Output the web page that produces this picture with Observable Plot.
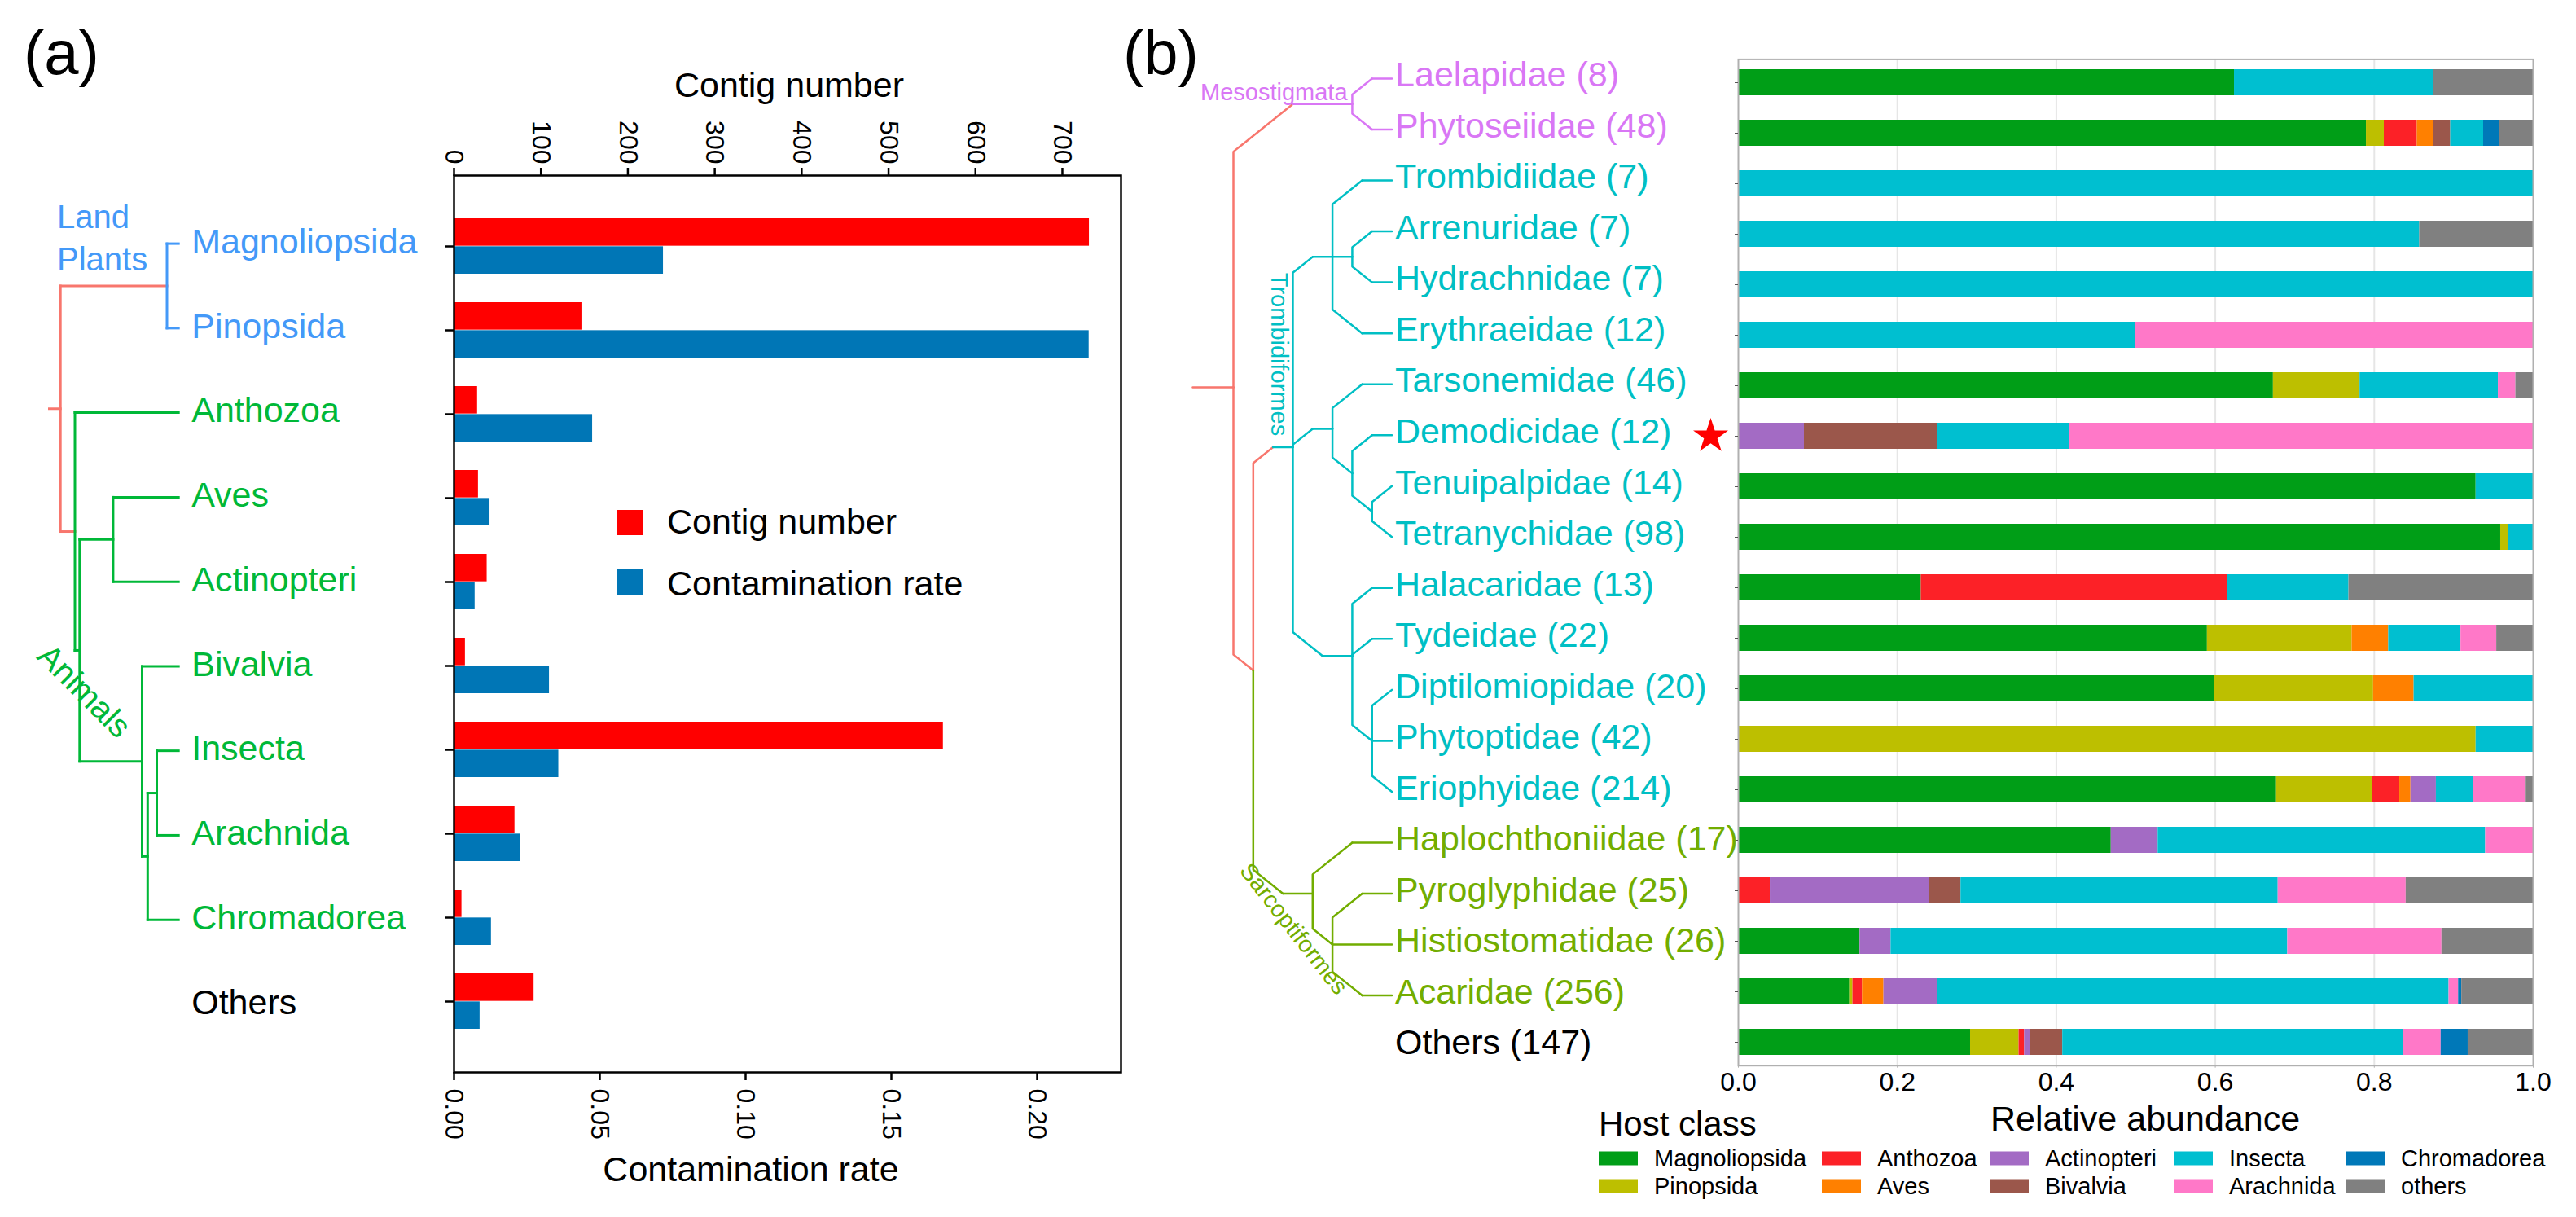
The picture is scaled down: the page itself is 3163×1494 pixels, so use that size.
<!DOCTYPE html>
<html><head><meta charset="utf-8">
<script src="https://cdn.jsdelivr.net/npm/d3@7"></script>
<script src="https://cdn.jsdelivr.net/npm/@observablehq/plot@0.6"></script>
<style>
body{margin:0;background:#fff;}
#wrap{position:relative;width:3163px;height:1494px;overflow:hidden;background:#fff;font-family:"Liberation Sans",Arial,sans-serif;}
#wrap svg{position:absolute;left:0;top:0;}
</style></head><body><div id="wrap"></div>
<script>
// ---------------- DATA (a) ----------------
const catsA = ["Magnoliopsida","Pinopsida","Anthozoa","Aves","Actinopteri","Bivalvia","Insecta","Arachnida","Chromadorea","Others"];
const contigNumber = [731,148,27,28,38,13,563,70,9,92];
const contaminationRate = [0.0718,0.2178,0.0475,0.0123,0.0072,0.0327,0.0359,0.0227,0.0128,0.0089];
const contigTicks = [0,100,200,300,400,500,600,700];
const rateTicks = [0,0.05,0.10,0.15,0.20];
// tree (a): node depth, group; leaves are category names
const treeA = {d:0,g:"root",c:[
  {d:130.8,g:"plant",stem:"root",c:["Magnoliopsida","Pinopsida"]},
  {d:17.8,g:"animal",stem:"root",c:["Anthozoa",
    {d:23.6,c:[{d:64.7,c:["Aves","Actinopteri"]},
               {d:100.3,c:["Bivalvia",{d:107.1,c:[{d:118.3,c:["Insecta","Arachnida"]},"Chromadorea"]}]}]}]}
]};

// ---------------- DATA (b) ----------------
const familiesB = ["Laelapidae","Phytoseiidae","Trombidiidae","Arrenuridae","Hydrachnidae","Erythraeidae","Tarsonemidae","Demodicidae","Tenuipalpidae","Tetranychidae","Halacaridae","Tydeidae","Diptilomiopidae","Phytoptidae","Eriophyidae","Haplochthoniidae","Pyroglyphidae","Histiostomatidae","Acaridae","Others"];
const countsB = [8,48,7,7,7,12,46,12,14,98,13,22,20,42,214,17,25,26,256,147];
const hostClasses = ["Magnoliopsida","Pinopsida","Anthozoa","Aves","Actinopteri","Bivalvia","Insecta","Arachnida","Chromadorea","others"];
const hostColors = ["#009e17","#bdbf00","#fc2127","#ff8000","#a36bc4","#9b574b","#00bfd0","#ff78c8","#0078b8","#808080"];
const Magnoliopsida = [0.624,0.790,0,0,0,0,0.673,0,0.928,0.959,0.230,0.590,0.599,0,0.677,0.469,0,0.153,0.140,0.292];
const Pinopsida     = [0,0.0225,0,0,0,0,0.109,0,0,0.010,0,0.182,0.200,0.928,0.121,0,0,0,0.004,0.061];
const Anthozoa      = [0,0.0415,0,0,0,0,0,0,0,0,0.385,0,0,0,0.034,0,0.040,0,0.012,0.007];
const Aves          = [0,0.021,0,0,0,0,0,0,0,0,0,0.046,0.051,0,0.014,0,0,0,0.027,0];
const Actinopteri   = [0,0,0,0,0,0,0,0.083,0,0,0,0,0,0,0.032,0.059,0.200,0.039,0.067,0.007];
const Bivalvia      = [0,0.021,0,0,0,0,0,0.167,0,0,0,0,0,0,0,0,0.040,0,0,0.041];
const Insecta       = [0.251,0.0415,1,0.857,1,0.499,0.174,0.166,0.072,0.031,0.153,0.091,0.150,0.072,0.047,0.412,0.399,0.499,0.644,0.429];
const Arachnida     = [0,0,0,0,0,0.501,0.022,0.584,0,0,0,0.045,0,0,0.065,0.060,0.161,0.194,0.012,0.047];
const Chromadorea   = [0,0.0205,0,0,0,0,0,0,0,0,0,0,0,0,0,0,0,0,0.004,0.034];
const othersCls     = [0.125,0.042,0,0.143,0,0,0.022,0,0,0,0.232,0.046,0,0,0.010,0,0.160,0.115,0.090,0.082];
const abundanceTicks = [0,0.2,0.4,0.6,0.8,1.0];
const treeB = {d:0,g:"root",c:[
  {d:6,g:"meso",stem:"root",c:["Laelapidae","Phytoseiidae"]},
  {d:1,c:[
    {d:3,g:"trom",stem:"root",c:[
      {d:5,c:["Trombidiidae",{d:6,c:["Arrenuridae","Hydrachnidae"]},"Erythraeidae"]},
      {d:5,c:["Tarsonemidae",{d:6,c:["Demodicidae",{d:7,c:["Tenuipalpidae","Tetranychidae"]}]}]},
      {d:6,c:["Halacaridae","Tydeidae",{d:7,c:["Diptilomiopidae","Phytoptidae","Eriophyidae"]}]}
    ]},
    {d:4,g:"sarc",c:["Haplochthoniidae",{d:5,c:["Pyroglyphidae","Histiostomatidae","Acaridae"]}]}
  ]}
]};

// ---------------- STYLE / LAYOUT ----------------
const W = 3163, H = 1494;
const FONT = '"Liberation Sans", Arial, sans-serif';
const colA = {root:"#F8766D", plant:"#4499f8", animal:"#00b838"};
const colB = {root:"#F8766D", meso:"#d977f5", trom:"#00bfc4", sarc:"#72ad00"};
const baseStyle = {background:"transparent", fontFamily: FONT, overflow:"visible"};

// panel (a) frame and bands
const fa = {l:557, r:1376, t:215, b:1316};
const stepA = 103.76, c0A = 298.6, padA = 0.338;
const yRangeA = [c0A - stepA/2, c0A + (catsA.length - 0.5)*stepA];
const bwA = stepA*(1-padA);
// panel (b)
const fb = {l:2134, r:3110, t:72.4, b:1307.7};
const padInB = 0.49, padOutB = 0.1223;
const stepB = (fb.b-fb.t)/(familiesB.length - padInB + 2*padOutB);
const c0B = fb.t + padOutB*stepB + stepB*(1-padInB)/2;
const unitB = 24.32, x0B = 1514;

const wrap = document.getElementById("wrap");
function add(svg){ wrap.appendChild(svg); }

// ---------------- tree helpers ----------------
function build(node, leafDepth, order, g){
  if (typeof node === "string") return {name:node, d:leafDepth, y:order.indexOf(node), g, leaf:true};
  const gg = node.g || g;
  const kids = node.c.map(k => build(k, leafDepth, order, gg));
  return {d:node.d, g:gg, stem:node.stem, kids, y:d3.mean(kids, k => k.y)};
}
function leaves(n, out=[]){ if (n.leaf) out.push(n); else n.kids.forEach(k => leaves(k,out)); return out; }

// ---------------- panel (a) ----------------
const tableA = catsA.map((c,i) => ({cat:c, contig:contigNumber[i], rate:contaminationRate[i]}));
const yA = {type:"band", domain:catsA, range:yRangeA, paddingInner:padA, paddingOuter:padA/2};
const dimsA = {width:W, height:H, marginLeft:fa.l, marginRight:W-fa.r, marginTop:fa.t, marginBottom:H-fa.b, style:baseStyle};

add(Plot.plot({...dimsA,
  x:{domain:[0,(fa.r-fa.l)/1.0671]},
  y:{...yA, axis:null},
  marks:[
    Plot.barX(tableA, {x:"contig", y:"cat", fill:"#ff0000", insetBottom:bwA/2}),
    Plot.axisX(contigTicks, {anchor:"top", tickSize:10, tickPadding:4, tickRotate:90, fontSize:32, label:null, strokeWidth:2.5, tickFormat:d=>String(d)})
  ]}));

add(Plot.plot({...dimsA,
  x:{domain:[0,(fa.r-fa.l)/3580]},
  y:yA,
  marks:[
    Plot.barX(tableA, {x:"rate", y:"cat", fill:"#0076b6", insetTop:bwA/2}),
    Plot.frame({stroke:"black", strokeWidth:2.5}),
    Plot.axisY({tickSize:11, tickFormat:()=>"", label:null, strokeWidth:2.5}),
    Plot.axisX(rateTicks, {anchor:"bottom", tickSize:10, tickPadding:10, tickRotate:90, fontSize:32, label:null, strokeWidth:2.5, tickFormat:d3.format(".2f")})
  ]}));

// tree (a)
const rootA = build(treeA, 145, catsA, "root");
const segA = [{x1:-13.7, x2:0, y1:rootA.y, y2:rootA.y, color:colA.root}];
(function rect(n){
  if (n.leaf) return;
  segA.push({x1:n.d, x2:n.d, y1:d3.min(n.kids,k=>k.y), y2:d3.max(n.kids,k=>k.y), color:colA[n.g]});
  n.kids.forEach(k => { segA.push({x1:n.d, x2:k.d, y1:k.y, y2:k.y, color:colA[k.stem||k.g]}); rect(k); });
})(rootA);
const leafA = new Map(leaves(rootA).map(l => [l.name, l]));
const labelsA = catsA.map((c,i) => ({name:c, y:i, x:145, color: leafA.has(c) ? colA[leafA.get(c).g] : "#000"}));
add(Plot.plot({width:W, height:H, margin:0, style:baseStyle,
  x:{domain:[0,145], range:[73.7,218.7], axis:null},
  y:{domain:[0,catsA.length-1], range:[c0A, c0A+(catsA.length-1)*stepA], axis:null},
  color:{type:"identity"},
  marks:[
    Plot.link(segA, {x1:"x1", x2:"x2", y1:"y1", y2:"y2", stroke:"color", strokeWidth:3, strokeLinecap:"square"}),
    Plot.text(labelsA, {x:"x", y:"y", text:"name", fill:"color", textAnchor:"start", dx:16, dy:-2, fontSize:43})
  ]}));

// ---------------- panel (b) ----------------
const seriesB = [Magnoliopsida,Pinopsida,Anthozoa,Aves,Actinopteri,Bivalvia,Insecta,Arachnida,Chromadorea,othersCls];
const tableB = [];
familiesB.forEach((f,i) => hostClasses.forEach((c,j) => { if (seriesB[j][i] > 0) tableB.push({family:f, cls:c, value:seriesB[j][i]}); }));

add(Plot.plot({width:W, height:H, marginLeft:fb.l, marginRight:W-fb.r, marginTop:fb.t, marginBottom:H-fb.b, style:baseStyle,
  x:{domain:[0,1]},
  y:{type:"band", domain:familiesB, paddingInner:padInB, paddingOuter:padOutB},
  color:{domain:hostClasses, range:hostColors},
  marks:[
    Plot.gridX(abundanceTicks.slice(1,-1), {stroke:"#e6e6e6", strokeOpacity:1, strokeWidth:2}),
    Plot.barX(tableB, Plot.stackX({x:"value", y:"family", fill:"cls"})),
    Plot.frame({stroke:"#b0b0b0", strokeWidth:2}),
    Plot.axisY({tickSize:4, tickFormat:()=>"", label:null, stroke:"#555"}),
    Plot.axisX(abundanceTicks, {anchor:"bottom", tickSize:3, tickPadding:5, fontSize:32, label:null, stroke:"#b0b0b0", fill:"#000", tickFormat:d3.format(".1f")}),
    Plot.dot(["Demodicidae"], {x:()=>0, y:d=>d, dx:-34, symbol:"star", r:13.5, fill:"#ff0000", stroke:"none"})
  ]}));

// tree (b)
const rootB = build(treeB, 8, familiesB, "root");
const linesB = [];
let lid = 0;
function pushLine(pts, color){ const id = lid++; pts.forEach(([x,y]) => linesB.push({id, x, y, color})); }
pushLine([[-(x0B-1464)/unitB, rootB.y],[0, rootB.y]], colB.root);
(function slant(n){
  if (n.leaf) return;
  n.kids.forEach(k => {
    const L = k.d - n.d, stemC = colB[k.stem||k.g], brC = colB[k.g];
    if (Math.abs(k.y - n.y) < 1e-6) pushLine([[n.d,k.y],[k.d,k.y]], brC);
    else {
      const dx = L <= 1 ? L : L/2;
      const dyRows = Math.min(Math.abs(k.y-n.y), 0.8*dx*unitB/stepB);
      const s = Math.sign(k.y-n.y);
      pushLine([[n.d,n.y],[n.d,k.y - s*dyRows],[n.d+dx,k.y]], stemC);
      if (dx < L) pushLine([[n.d+dx,k.y],[k.d,k.y]], brC);
    }
    slant(k);
  });
})(rootB);
const leafB = new Map(leaves(rootB).map(l => [l.name, l]));
const labelsB = familiesB.map((f,i) => ({text:`${f} (${countsB[i]})`, y:i, x:8, color: leafB.has(f) ? colB[leafB.get(f).g] : "#000"}));
add(Plot.plot({width:W, height:H, margin:0, style:baseStyle,
  x:{domain:[0,8], range:[x0B, x0B+8*unitB], axis:null},
  y:{domain:[0,familiesB.length-1], range:[c0B, c0B+(familiesB.length-1)*stepB], axis:null},
  color:{type:"identity"},
  marks:[
    Plot.line(linesB, {x:"x", y:"y", z:"id", stroke:"color", strokeWidth:2.5, strokeLinejoin:"round", strokeLinecap:"round"}),
    Plot.text(labelsB, {x:"x", y:"y", text:"text", fill:"color", textAnchor:"start", dx:4, dy:-4, fontSize:43})
  ]}));

// ---------------- annotations, titles, legends ----------------
const legCols = [1963, 2237, 2443, 2669, 2880], legRows = [1413.5, 1447.5];
let legB = "";
hostClasses.forEach((c,i) => {
  const x = legCols[Math.floor(i/2)], y = legRows[i%2];
  legB += `<rect x="${x}" y="${y}" width="48" height="17" fill="${hostColors[i]}"/>`;
  legB += `<text x="${x+68}" y="${y+18.5}" font-size="29">${c}</text>`;
});
wrap.insertAdjacentHTML("beforeend", `
<svg width="${W}" height="${H}" xmlns="http://www.w3.org/2000/svg" style="font-family:${FONT.replace(/"/g,"'")}">
  <text x="29" y="91" font-size="76">(a)</text>
  <text x="1379" y="91" font-size="76">(b)</text>
  <text x="969" y="119" font-size="43" text-anchor="middle">Contig number</text>
  <text x="922" y="1450" font-size="43" text-anchor="middle">Contamination rate</text>
  <rect x="757" y="626" width="33" height="31" fill="#ff0000"/>
  <rect x="757" y="698" width="33" height="32" fill="#0076b6"/>
  <text x="819" y="655" font-size="43">Contig number</text>
  <text x="819" y="731" font-size="43">Contamination rate</text>
  <text x="70" y="280" font-size="40" fill="${colA.plant}">Land</text>
  <text x="70" y="332" font-size="40" fill="${colA.plant}">Plants</text>
  <text transform="translate(104,848) rotate(45)" font-size="40" fill="${colA.animal}" text-anchor="middle" dominant-baseline="central">Animals</text>
  <text x="1474" y="123" font-size="29" fill="${colB.meso}">Mesostigmata</text>
  <text transform="translate(1571,435) rotate(90)" font-size="29" fill="${colB.trom}" text-anchor="middle" dominant-baseline="central">Trombidiformes</text>
  <text transform="translate(1589,1140) rotate(52)" font-size="29" fill="${colB.sarc}" text-anchor="middle" dominant-baseline="central">Sarcoptiformes</text>
  <text x="2634" y="1388" font-size="43" text-anchor="middle">Relative abundance</text>
  <text x="1963" y="1394" font-size="42">Host class</text>
  ${legB}
</svg>`);
</script></body></html>
